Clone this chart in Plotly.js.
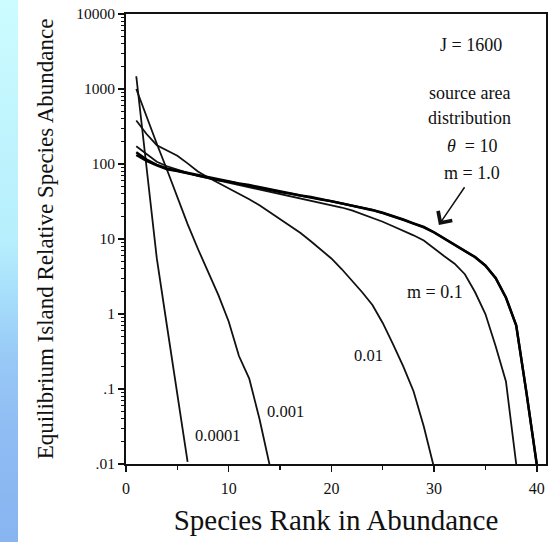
<!DOCTYPE html>
<html>
<head>
<meta charset="utf-8">
<script src="https://cdn.plot.ly/plotly-3.0.1.min.js"></script>
<style>
html, body { margin:0; padding:0; background:#ffffff; }
#wrap { position:relative; width:558px; height:542px; overflow:hidden; }
#strip { position:absolute; left:0; top:0; width:18px; height:542px;
  background: linear-gradient(to bottom, #ccfcff 0%, #c2f6fe 20%, #b6eefd 45%, #a6ddfb 55%, #98c9f6 66%, #8fbcf3 80%, #88b4f0 100%); }
#chart { position:absolute; left:0; top:0; width:558px; height:542px; }
</style>
</head>
<body>
<div id="wrap"><div id="strip"></div><div id="chart"></div></div>
<script>
// Species rank (x) for each curve
const rank6  = [1,2,3,4,5,6];
const rank14 = [1,2,3,4,5,6,7,8,9,10,11,12,13,14];
const rank30 = [1,2,3,4,5,6,7,8,9,10,11,12,13,14,15,16,17,18,19,20,21,22,23,24,25,26,27,28,29,30];
const rank38 = [1,2,3,4,5,6,7,8,9,10,11,12,13,14,15,16,17,18,19,20,21,22,23,24,25,26,27,28,29,30,31,32,33,34,35,36,37,38];
const rank40 = [1,2,3,4,5,6,7,8,9,10,11,12,13,14,15,16,17,18,19,20,21,22,23,24,25,26,27,28,29,30,31,32,33,34,35,36,37,38,39,40];

// Equilibrium island relative species abundance
const m0001 = [1480, 87.1, 5.5, 0.676, 0.0851, 0.0107];
const m001  = [1000, 417, 186, 83.2, 35.5, 15.8, 7.41, 3.55, 1.78, 0.794, 0.275, 0.138, 0.0398, 0.0095];
const m01   = [380, 251, 178, 151, 129, 102, 79.4, 66.1, 56.2, 47.9, 39.8, 33.9, 28.2, 22.9, 18.6, 15.1, 12.0, 9.33, 7.24, 5.50, 3.98, 2.82, 1.95, 1.32, 0.759, 0.398, 0.200, 0.0933, 0.0316, 0.0089];
const m1    = [172, 135, 107, 93.3, 83.2, 75.9, 69.2, 64.6, 60.3, 56.2, 52.5, 49.0, 45.7, 42.7, 39.8, 37.2, 34.7, 32.4, 30.2, 28.2, 26.3, 24.0, 21.4, 19.1, 17.0, 14.8, 12.9, 11.2, 9.55, 7.41, 5.89, 4.68, 3.39, 1.95, 1.0, 0.372, 0.126, 0.01];
const source = [143, 115, 97.7, 87.1, 81.3, 75.9, 70.8, 66.1, 61.7, 58.9, 55.0, 52.5, 49.0, 45.7, 42.7, 40.7, 38.0, 36.3, 33.9, 32.4, 30.2, 28.2, 26.3, 24.5, 22.4, 20.4, 18.2, 16.2, 14.5, 12.3, 10.2, 8.51, 7.08, 5.75, 4.47, 3.02, 1.66, 0.708, 0.0891, 0.01];
const m10   = [132, 110, 95.5, 85.1, 80.4, 75.0, 70.0, 65.5, 61.0, 58.2, 54.5, 52.0, 48.5, 45.2, 42.2, 40.2, 37.6, 35.9, 33.5, 32.0, 29.9, 27.9, 26.0, 24.2, 22.1, 20.1, 18.0, 16.0, 14.3, 12.2, 10.1, 8.4, 7.0, 5.7, 4.4, 3.0, 1.65, 0.70, 0.088, 0.0098];

// Axis ticks
const xTicks = [0, 10, 20, 30, 40];
const xMinor = [5, 15, 25, 35];
const yTicks = [0.01, 0.1, 1, 10, 100, 1000, 10000];
const yTickText = ['.01', '.1', '1', '10', '100', '1000', '10000'];

const yMinor = [];
for (let e = -2; e < 4; e++) for (let d = 2; d <= 9; d++) yMinor.push(d * Math.pow(10, e));

const FONT = 'Liberation Serif, Times New Roman, serif';
const thin = {color:'#111', width:1.8};
const thick = {color:'#000', width:2.4};

const traces = [
  {x: rank6,  y: m0001, mode:'lines', line: thin, name:'m = 0.0001'},
  {x: rank14, y: m001,  mode:'lines', line: thin, name:'m = 0.001'},
  {x: rank30, y: m01,   mode:'lines', line: thin, name:'m = 0.01'},
  {x: rank38, y: m1,    mode:'lines', line: thin, name:'m = 0.1'},
  {x: rank40, y: source, mode:'lines', line: thick, name:'source θ = 10'},
  {x: rank40, y: m10,   mode:'lines', line: thick, name:'m = 1.0'}
];

function lab(text, x, ylog, size) {
  return {text: text, x: x, y: ylog, xref:'x', yref:'y', showarrow:false,
          font:{family:FONT, size:size, color:'#111'}, xanchor:'center', yanchor:'middle'};
}

const annotations = [
  lab('J = 1600', 33.56, 3.585, 18),
  lab('source area', 33.49, 2.948, 18),
  lab('distribution', 33.49, 2.614, 18),
  lab('<i>θ</i>&nbsp;&nbsp;= 10', 33.72, 2.235, 18),
  lab('m = 1.0', 33.72, 1.878, 18),
  lab('m = 0.1', 30.08, 0.287, 18),
  lab('0.01', 23.65, -0.559, 16.5),
  lab('0.001', 15.53, -1.30, 16.5),
  lab('0.0001', 8.87, -1.62, 16.5),
  {x: 30.47, y: 1.187, ax: 33.07, ay: 1.71, xref:'x', yref:'y', axref:'x', ayref:'y',
   text:'', showarrow:true, arrowhead:4, arrowsize:2.2, arrowwidth:1.5, arrowcolor:'#111'}
];

const layout = {
  width: 558, height: 542,
  margin: {l:126, r:12, t:14, b:78, pad:0},
  paper_bgcolor: 'rgba(0,0,0,0)',
  plot_bgcolor: '#ffffff',
  showlegend: false,
  font: {family: FONT, color:'#111'},
  xaxis: {
    range: [0, 40.9], tickvals: xTicks, ticktext: xTicks.map(String),
    ticks:'outside', ticklen:6, tickwidth:1.5, tickcolor:'#111', ticklabelstandoff:3,
    minor: {tickvals: xMinor, ticks:'outside', ticklen:4, tickwidth:1.3, tickcolor:'#111', showgrid:false},
    showgrid:false, zeroline:false, showline:true, linewidth:2, linecolor:'#111', mirror:true,
    tickfont: {family:FONT, size:16, color:'#111'},
    title: {text:'Species Rank in Abundance', font:{family:FONT, size:29, color:'#111'}, standoff:13}
  },
  yaxis: {
    type:'log', range:[-2, 4], tickvals: yTicks, ticktext: yTickText,
    ticks:'outside', ticklen:6, tickwidth:1.5, tickcolor:'#111',
    minor: {tickvals: yMinor, ticks:'outside', ticklen:3, tickwidth:1, tickcolor:'#111', showgrid:false},
    showgrid:false, zeroline:false, showline:true, linewidth:2, linecolor:'#111', mirror:true,
    tickfont: {family:FONT, size:15.5, color:'#111'},
    title: {text:'Equilibrium Island Relative Species Abundance', font:{family:FONT, size:23, color:'#111'}, standoff:16}
  },
  annotations: annotations
};

Plotly.newPlot('chart', traces, layout, {staticPlot:true, displayModeBar:false});
</script>
</body>
</html>
